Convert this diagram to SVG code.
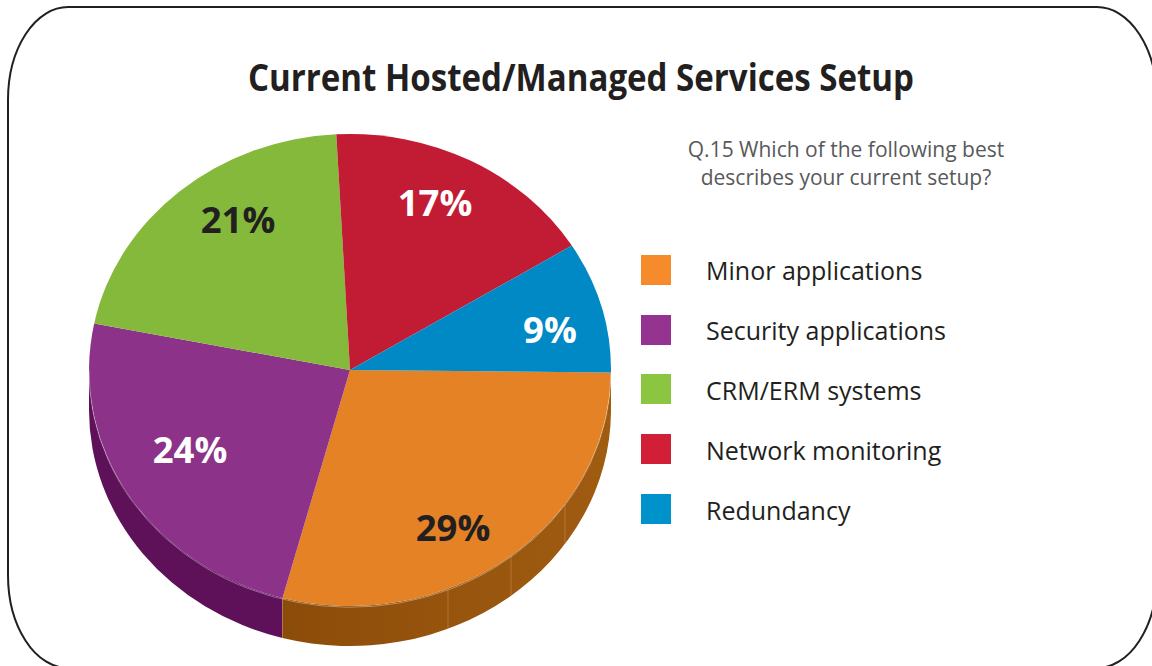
<svg xmlns="http://www.w3.org/2000/svg" width="1152" height="666" viewBox="0 0 1152 666">
  <style>
    .title { font-family: "Open Sans", "Liberation Sans", sans-serif; font-weight: bold; font-size: 37px; fill: #231f20; }
    .sub { font-family: "Open Sans", "Liberation Sans", sans-serif; font-size: 21px; fill: #58595b; }
    .leg { font-family: "Open Sans", "Liberation Sans", sans-serif; font-size: 25px; fill: #231f20; }
    .pct { font-family: "Open Sans", "Liberation Sans", sans-serif; font-weight: bold; font-size: 36.5px; text-anchor: middle; }
    .w { fill: #ffffff; }
    .k { fill: #231f20; }
    .facet { stroke: #c08443; stroke-width: 1; opacity: 0.7; }
    .edge { fill: none; stroke: #ffffff; stroke-opacity: 0.45; stroke-width: 0.8; }
  </style>
  <defs>
    <linearGradient id="orSide" x1="282" y1="0" x2="611" y2="0" gradientUnits="userSpaceOnUse">
      <stop offset="0" stop-color="#8c4c09"/>
      <stop offset="1" stop-color="#a05c11"/>
    </linearGradient>
  </defs>
  <rect width="1152" height="666" fill="#ffffff"/>
  <g id="frame">
    <path d="M 68 7 H 1097 A 60 93 0 0 1 1157 100 V 575 A 60 93 0 0 1 1097 668 H 68 A 60 93 0 0 1 8 575 V 100 A 60 93 0 0 1 68 7 Z" fill="none" stroke="#231f20" stroke-width="2"/>
  </g>
  <g id="title">
    <text class="title" x="248" y="91" textLength="666" lengthAdjust="spacingAndGlyphs">Current Hosted/Managed Services Setup</text>
  </g>
  <g id="question">
    <text class="sub" x="846" y="157" text-anchor="middle">Q.15 Which of the following best</text>
    <text class="sub" x="846" y="185" text-anchor="middle">describes your current setup?</text>
  </g>
  <g id="pie">
    <g id="sides">
      <path d="M 611 372.5 A 261 236 0 0 1 282.5 598 L 282.5 638 A 261 236 0 0 0 611 412.5 Z" fill="url(#orSide)"/>
      <path d="M 282.5 598 A 261 236 0 0 1 89 370 L 89 410 A 261 236 0 0 0 282.5 638 Z" fill="#5e1158"/>
      <line class="facet" x1="448" y1="589" x2="448" y2="628.5"/>
      <line class="facet" x1="511" y1="556" x2="511" y2="595.5"/>
      <line class="facet" x1="565" y1="504" x2="565" y2="543.5"/>
      <line class="facet" x1="282.5" y1="598" x2="282.5" y2="638" stroke="#b07aa0" stroke-width="0.8" opacity="0.5"/>
    </g>
    <g id="slice-minor">
      <path d="M 350 370 L 611 372.5 A 261 236 0 0 1 282.5 598 Z" fill="#e58226"/>
    </g>
    <g id="slice-security">
      <path d="M 350 370 L 282.5 598 A 261 236 0 0 1 94.2 323.4 Z" fill="#8c3289"/>
    </g>
    <g id="slice-crm">
      <path d="M 350 370 L 94.2 323.4 A 261 236 0 0 1 336.3 134.3 Z" fill="#85b93b"/>
    </g>
    <g id="slice-network">
      <path d="M 350 370 L 336.3 134.3 A 261 236 0 0 1 571.8 245.6 Z" fill="#c21c34"/>
    </g>
    <g id="slice-redundancy">
      <path d="M 350 370 L 571.8 245.6 A 261 236 0 0 1 611 372.5 Z" fill="#0089c4"/>
    </g>
    <path class="edge" d="M 611 372.5 A 261 236 0 0 1 89 370"/>
  </g>
  <g id="pct-labels">
    <text class="pct w" x="435" y="216">17%</text>
    <text class="pct k" x="238" y="233">21%</text>
    <text class="pct w" x="550" y="343">9%</text>
    <text class="pct w" x="190" y="463">24%</text>
    <text class="pct k" x="453" y="541">29%</text>
  </g>
  <g id="legend">
    <g id="legend-minor">
      <rect x="641" y="255" width="30" height="30" fill="#f68b2b"/>
      <text class="leg" x="706" y="280">Minor applications</text>
    </g>
    <g id="legend-security">
      <rect x="641" y="315" width="30" height="30" fill="#953490"/>
      <text class="leg" x="706" y="340">Security applications</text>
    </g>
    <g id="legend-crm">
      <rect x="641" y="374" width="30" height="30" fill="#8cc53f"/>
      <text class="leg" x="706" y="400">CRM/ERM systems</text>
    </g>
    <g id="legend-network">
      <rect x="641" y="434" width="30" height="30" fill="#d01f37"/>
      <text class="leg" x="706" y="460">Network monitoring</text>
    </g>
    <g id="legend-redundancy">
      <rect x="641" y="494" width="30" height="30" fill="#0093cb"/>
      <text class="leg" x="706" y="520">Redundancy</text>
    </g>
  </g>
</svg>
